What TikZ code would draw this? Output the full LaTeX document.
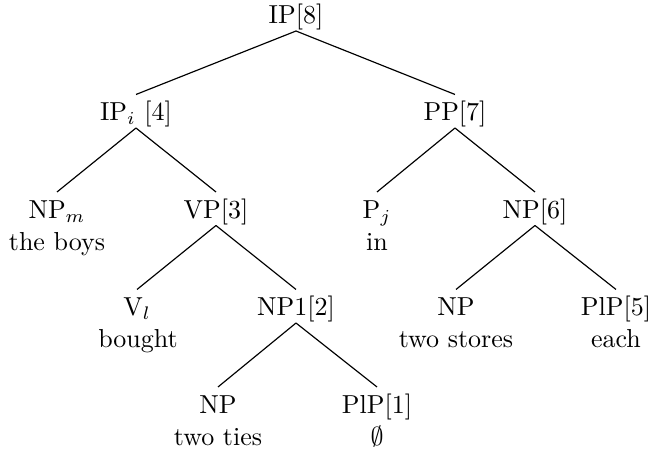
\documentclass[tikz,border=0pt]{standalone}
\begin{document}
\begin{tikzpicture}[x=0.3846pt,y=-0.3846pt,
  cat/.style={inner xsep=0pt,inner ysep=2.5pt,text height=7.5pt,text depth=0pt,anchor=base},
  word/.style={inner sep=0pt,anchor=base},
  branch/.style={line width=0.45pt}]
\useasboundingbox (0,0) rectangle (651,453);

% category labels
\node[cat] (ip8)  at (296,24)    {IP[8]};
\node[cat] (ipi)  at (136,121)   {IP$_i$ [4]};
\node[cat] (pp7)  at (455,121)   {PP[7]};
\node[cat] (npm)  at (57,218.5)  {NP$_m$};
\node[cat] (vp3)  at (216,218.5) {VP[3]};
\node[cat] (pj)   at (377,218.5) {P$_j$};
\node[cat] (np6)  at (535,218.5) {NP[6]};
\node[cat] (vl)   at (137,316)   {V$_l$};
\node[cat] (np1)  at (296,316)   {NP1[2]};
\node[cat] (npst) at (456,316)   {NP};
\node[cat] (plp5) at (616,316)   {PlP[5]};
\node[cat] (npti) at (218,413.5) {NP};
\node[cat] (plp1) at (377,413.5) {PlP[1]};

% lexical material under the leaves
\node[word] (wboys)   at (57,250.5)  {the boys};
\node[word] (win)     at (377,250.5) {in};
\node[word] (wbought) at (138,348)   {bought};
\node[word] (wstores) at (456,348)   {two stores};
\node[word] (weach)   at (616,348)   {each};
\node[word] (wties)   at (218,445.5) {two ties};
\node[word] (wnull)   at (377,445.5) {$\emptyset$};

% branches
\draw[branch] (ip8.south) -- (ipi.north);
\draw[branch] (ip8.south) -- (pp7.north);
\draw[branch] (ipi.south) -- (npm.north);
\draw[branch] (ipi.south) -- (vp3.north);
\draw[branch] (pp7.south) -- (pj.north);
\draw[branch] (pp7.south) -- (np6.north);
\draw[branch] (vp3.south) -- (vl.north);
\draw[branch] (vp3.south) -- (np1.north);
\draw[branch] (np6.south) -- (npst.north);
\draw[branch] (np6.south) -- (plp5.north);
\draw[branch] (np1.south) -- (npti.north);
\draw[branch] (np1.south) -- (plp1.north);
\end{tikzpicture}
\end{document}
